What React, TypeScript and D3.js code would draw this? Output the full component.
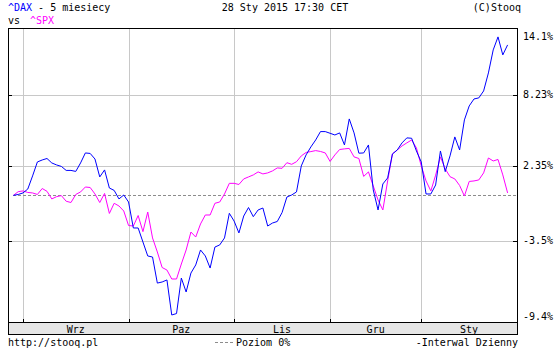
import React from "react";
import * as d3 from "d3";

const dates = [
  "2014-08-28","2014-08-29",
  "2014-09-01","2014-09-02","2014-09-03","2014-09-04","2014-09-05","2014-09-08","2014-09-09","2014-09-10","2014-09-11","2014-09-12",
  "2014-09-15","2014-09-16","2014-09-17","2014-09-18","2014-09-19","2014-09-22","2014-09-23","2014-09-24","2014-09-25","2014-09-26","2014-09-29","2014-09-30",
  "2014-10-01","2014-10-02","2014-10-06","2014-10-07","2014-10-08","2014-10-09","2014-10-10","2014-10-13","2014-10-14","2014-10-15","2014-10-16",
  "2014-10-17","2014-10-20","2014-10-21","2014-10-22","2014-10-23","2014-10-24","2014-10-27","2014-10-28","2014-10-29","2014-10-30","2014-10-31",
  "2014-11-03","2014-11-04","2014-11-05","2014-11-06","2014-11-07","2014-11-10","2014-11-11","2014-11-12","2014-11-13","2014-11-14",
  "2014-11-17","2014-11-18","2014-11-19","2014-11-20","2014-11-21","2014-11-24","2014-11-25","2014-11-26","2014-11-27","2014-11-28",
  "2014-12-01","2014-12-02","2014-12-03","2014-12-04","2014-12-05","2014-12-08","2014-12-09","2014-12-10","2014-12-11","2014-12-12",
  "2014-12-15","2014-12-16","2014-12-17","2014-12-18","2014-12-19","2014-12-22","2014-12-23","2014-12-29","2014-12-30",
  "2015-01-02","2015-01-05","2015-01-06","2015-01-07","2015-01-08","2015-01-09","2015-01-12","2015-01-13","2015-01-14","2015-01-15",
  "2015-01-16","2015-01-19","2015-01-20","2015-01-21","2015-01-22","2015-01-23","2015-01-26","2015-01-27","2015-01-28",
];

const daxValues = [
  0, 0.07, 0.19, 0.5, 1.54, 2.66, 2.82, 2.94, 2.58, 2.42,
  2.3, 1.98, 1.98, 1.9, 2.58, 3.39, 3.35, 2.9, 1.46, 2.02,
  0.58, 0.39, -0.28, 0.03, -0.52, -2.53, -2.53, -3.6, -4.65, -4.73,
  -6.66, -6.58, -6.43, -8.97, -8.87, -6.29, -7.31, -5.92, -5.32, -4.2,
  -4.65, -5.55, -3.98, -3.82, -3.29, -1.4, -2.0, -2.91, -1.61, -0.95,
  -1.66, -1.14, -0.99, -2.38, -2.15, -2.03, -1.34, -0.13, 0.03, 0.27,
  2.34, 3.23, 3.88, 4.45, 5.14, 5.14, 5.0, 4.86, 5.03, 4.04,
  6.19, 5.03, 3.37, 3.39, 4.04, 0.43, -1.14, 0.9, 1.38, 3.31,
  3.63, 4.21, 4.62, 4.59, 3.55, 2.66, 0.11, 0.11, 0.82, 3.55,
  1.88, 3.15, 4.7, 3.63, 6.11, 7.28, 7.87, 7.96, 8.55, 10.1,
  12.11, 13.26, 11.67, 12.55,
];

const spxValues = [
  0, 0.29, 0.35, 0.23, 0.19, 0.07, 0.54, 0.32, -0.28, -0.1,
  -0.02, -0.46, -0.56, 0.07, 0.27, 0.66, 0.62, 0.11, -0.56, 0.15,
  -1.41, -0.62, -0.83, -1.22, -2.34, -2.38, -1.57, -2.81, -1.3, -3.29,
  -4.35, -5.51, -5.7, -6.36, -6.36, -5.25, -4.2, -2.84, -3.22, -2.22,
  -1.53, -1.53, -0.62, -0.52, 0.11, 0.95, 0.95, 0.86, 1.3, 1.46,
  1.62, 1.86, 1.7, 1.78, 1.94, 2.18, 2.15, 2.6, 2.47, 2.68,
  3.15, 3.43, 3.5, 3.58, 3.51, 3.39, 2.7, 3.23, 3.67, 3.72,
  3.76, 3.07, 2.94, 1.5, 1.86, 0.74, -0.36, -1.14, 1.14, 3.31,
  3.63, 3.96, 4.21, 4.45, 3.8, 2.34, 1.14, 0.35, 1.6, 3.07,
  2.1, 1.48, 1.3, 0.78, -0.05, 1.1, 1.14, 1.22, 1.78, 2.98,
  2.74, 2.86, 1.62, 0.19,
];

const yTicks = [14.1, 8.23, 2.35, -3.5, -9.4];
const yTickLabels = ["14.1%", "8.23%", "2.35%", "-3.5%", "-9.4%"];
const monthNames = ["Sty", "Lut", "Mar", "Kwi", "Maj", "Cze", "Lip", "Sie", "Wrz", "Paz", "Lis", "Gru"];

const FONT = "'DejaVu Sans Mono', monospace";

export default function App() {
  const left = 8, right = 517, top = 29, plotBottom = 322.5, bandBottom = 334.5;

  const x = d3.scaleLinear().domain([0, dates.length - 1]).range([13.4, 507.6]);
  const y = d3
    .scaleLog()
    .domain([1 + yTicks[yTicks.length - 1] / 100, 1 + yTicks[0] / 100])
    .range([321, 27.5]);
  const yv = (v: number) => y(1 + v / 100);

  const line = d3
    .line<number>()
    .x((_, i) => x(i))
    .y((v) => yv(v));

  const monthStarts: { idx: number; m: number }[] = [];
  dates.forEach((d, i) => {
    const m = +d.slice(5, 7) - 1;
    if (i === 0 || +dates[i - 1].slice(5, 7) - 1 !== m) monthStarts.push({ idx: i, m });
  });
  const gridMonths = monthStarts.filter((s) => s.idx > 0);

  const zeroY = yv(0);

  return (
    <svg
      width={560}
      height={350}
      style={{ position: "absolute", left: 0, top: 0, background: "#fff" }}
      fontFamily={FONT}
      fontSize={10}
    >
      <rect x={0} y={0} width={560} height={350} fill="#fff" />
      {/* header */}
      <text x={8} y={11}>
        <tspan fill="#0000ff">^DAX</tspan>
        <tspan fill="#000"> - 5 miesiecy</tspan>
      </text>
      <text x={8} y={24} fill="#000">vs</text>
      <text x={30} y={24} fill="#ff00ff">^SPX</text>
      <text x={285} y={11} textAnchor="middle" fill="#000">28 Sty 2015 17:30 CET</text>
      <text x={521} y={11} textAnchor="end" fill="#000">(C)Stooq</text>

      {/* vertical grid */}
      {gridMonths.map((s) => (
        <line
          key={"vg" + s.idx}
          x1={Math.round(x(s.idx)) + 0.5}
          x2={Math.round(x(s.idx)) + 0.5}
          y1={top}
          y2={plotBottom}
          stroke="#c8c8c8"
          shapeRendering="crispEdges"
        />
      ))}
      {gridMonths.map((s) => (
        <line
          key={"vt" + s.idx}
          x1={Math.round(x(s.idx)) + 0.5}
          x2={Math.round(x(s.idx)) + 0.5}
          y1={plotBottom - 4}
          y2={plotBottom}
          stroke="#000"
          shapeRendering="crispEdges"
        />
      ))}

      {/* horizontal grid */}
      {yTicks.map((t, i) => {
        const yy = Math.round(yv(t)) + 0.5;
        if (yy < top + 5 || yy > plotBottom - 5) return null;
        return (
          <g key={"hg" + i}>
            <line x1={left} x2={right} y1={yy} y2={yy} stroke="#c8c8c8" shapeRendering="crispEdges" />
            <line x1={left} x2={left + 4} y1={yy} y2={yy} stroke="#000" shapeRendering="crispEdges" />
            <line x1={right - 4} x2={right} y1={yy} y2={yy} stroke="#000" shapeRendering="crispEdges" />
          </g>
        );
      })}

      {/* zero line */}
      <line
        x1={x(0)}
        x2={right}
        y1={Math.round(zeroY) + 0.5}
        y2={Math.round(zeroY) + 0.5}
        stroke="#8c8c8c"
        strokeDasharray="3,2"
        shapeRendering="crispEdges"
      />

      {/* series */}
      <path d={line(spxValues) || ""} fill="none" stroke="#ff00ff" strokeWidth={1} />
      <path d={line(daxValues) || ""} fill="none" stroke="#0000ff" strokeWidth={1} />

      {/* band */}
      <rect x={left + 0.5} y={plotBottom} width={right - left} height={bandBottom - plotBottom} fill="#e6e6e6" />
      <line x1={left} x2={right} y1={plotBottom} y2={plotBottom} stroke="#000" shapeRendering="crispEdges" />
      {monthStarts.map((s, k) => {
        if (s.idx === 0) return null;
        const start = x(s.idx);
        const next = k + 1 < monthStarts.length ? x(monthStarts[k + 1].idx) : right;
        return (
          <text key={"ml" + s.idx} x={(start + next) / 2} y={333} textAnchor="middle" fill="#000">
            {monthNames[s.m]}
          </text>
        );
      })}

      {/* frame */}
      <rect
        x={left + 0.5}
        y={top - 0.5}
        width={right - left}
        height={bandBottom - top + 0.5}
        fill="none"
        stroke="#000"
        shapeRendering="crispEdges"
      />

      {/* y labels */}
      {yTicks.map((t, i) => {
        const yy = Math.min(Math.max(yv(t), 36), 316);
        return (
          <text key={"yl" + i} x={523} y={yy + 3.5} fill="#000">
            {yTickLabels[i]}
          </text>
        );
      })}

      {/* footer */}
      <text x={8} y={346} fill="#000">http://stooq.pl</text>
      <line x1={215} x2={234} y1={342.5} y2={342.5} stroke="#8c8c8c" strokeDasharray="3,2" shapeRendering="crispEdges" />
      <text x={236} y={346} fill="#000">Poziom 0%</text>
      <text x={518} y={346} textAnchor="end" fill="#000">-Interwal Dzienny</text>
    </svg>
  );
}
